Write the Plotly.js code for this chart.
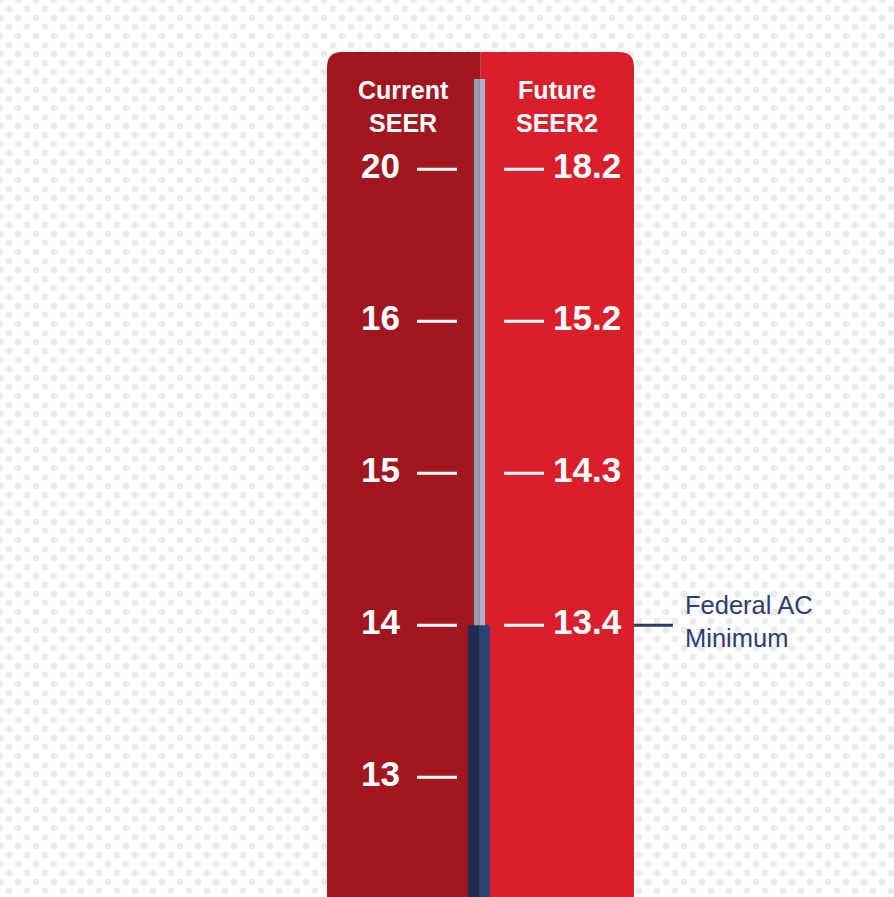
<!DOCTYPE html>
<html>
<head>
<meta charset="utf-8">
<script src="https://cdn.plot.ly/plotly-3.0.1.min.js"></script>
<style>
  html, body { margin: 0; padding: 0; }
  body {
    width: 894px; height: 897px; overflow: hidden;
    background-color: #ffffff;
    background-image:
      radial-gradient(circle, #ebebeb 3.2px, rgba(255,255,255,0) 3.8px),
      radial-gradient(circle, #ebebeb 3.2px, rgba(255,255,255,0) 3.8px);
    background-size: 18px 18px;
    background-position: 0 0, 9px 9px;
  }
  #chart { width: 894px; height: 897px; }
</style>
</head>
<body>
<div id="chart"></div>
<script>
// ---- data ----
const seerLevels = [13, 14, 15, 16, 20];
const seer2Levels = [null, 13.4, 14.3, 15.2, 18.2];
const federalMinimumSeer = 14;
const headerLabels = ["Current<br>SEER", "Future<br>SEER2"];
const federalLabel = "Federal AC<br>Minimum";

// ---- styling ----
const W = 894, H = 897;
const darkRed = "#a1171f", lightRed = "#d91f2b";
const navyDark = "#1f2d52", navyLight = "#2c4272";
const tubeDark = "#969db1", tubeLight = "#aab3c8";
const fontFam = "Liberation Sans, Arial, Helvetica, sans-serif";

const gaugePos = seerLevels.map((v, i) => i);
const fedPos = seerLevels.indexOf(federalMinimumSeer);

const leftTrace = {
  x: seerLevels.map(() => 400), y: gaugePos,
  text: seerLevels.map(String),
  mode: "text", textposition: "middle left",
  textfont: {family: fontFam, size: 35, color: "#ffffff", weight: "bold"},
  hoverinfo: "skip", showlegend: false, cliponaxis: false
};
const rIdx = seer2Levels.map((v, i) => i).filter(i => seer2Levels[i] !== null);
const rightTrace = {
  x: rIdx.map(() => 553), y: rIdx.map(i => gaugePos[i]),
  text: rIdx.map(i => seer2Levels[i].toFixed(1)),
  mode: "text", textposition: "middle right",
  textfont: {family: fontFam, size: 35, color: "#ffffff", weight: "bold"},
  hoverinfo: "skip", showlegend: false, cliponaxis: false
};

const shapes = [];
// panels (pixel layout on y2)
const panelTop = 52, rad = 15, pL = 327, pM = 480, pR = 634;
shapes.push({type: "path", xref: "x", yref: "y2", layer: "below", line: {width: 0}, fillcolor: darkRed,
  path: `M ${pL} ${H} L ${pL} ${panelTop + rad} Q ${pL} ${panelTop} ${pL + rad} ${panelTop} L ${pM} ${panelTop} L ${pM} ${H} Z`});
shapes.push({type: "path", xref: "x", yref: "y2", layer: "below", line: {width: 0}, fillcolor: lightRed,
  path: `M ${pM} ${H} L ${pM} ${panelTop} L ${pR - rad} ${panelTop} Q ${pR} ${panelTop} ${pR} ${panelTop + rad} L ${pR} ${H} Z`});
shapes.push({type: "line", xref: "x", yref: "y2", layer: "below", x0: pM + 0.5, x1: pM + 0.5, y0: panelTop, y1: H, line: {color: "#c2444c", width: 1}});
// tube
shapes.push({type: "rect", xref: "x", yref: "y2", layer: "below", x0: 474, x1: 479.5, y0: 79, y1: H, line: {width: 0}, fillcolor: tubeDark});
shapes.push({type: "rect", xref: "x", yref: "y2", layer: "below", x0: 479.5, x1: 485, y0: 79, y1: H, line: {width: 0}, fillcolor: tubeLight});
// navy fill up to federal minimum (data y)
shapes.push({type: "rect", xref: "x", yref: "y", layer: "above", x0: 468, x1: 479, y0: -2, y1: fedPos, line: {width: 0}, fillcolor: navyDark});
shapes.push({type: "rect", xref: "x", yref: "y", layer: "above", x0: 479, x1: 490, y0: -2, y1: fedPos, line: {width: 0}, fillcolor: navyLight});
// tick dashes
gaugePos.forEach((p, i) => {
  shapes.push({type: "line", xref: "x", yref: "y", x0: 417, x1: 457, y0: p, y1: p, line: {color: "#ffffff", width: 3}});
  if (seer2Levels[i] !== null)
    shapes.push({type: "line", xref: "x", yref: "y", x0: 504, x1: 544, y0: p, y1: p, line: {color: "#ffffff", width: 3}});
});
// federal marker
shapes.push({type: "line", xref: "x", yref: "y", x0: 634, x1: 673, y0: fedPos, y1: fedPos, line: {color: "#2b3a67", width: 3}});

const annotations = [
  {x: (pL + pM) / 2, y: 106, xref: "x", yref: "y2", text: headerLabels[0], showarrow: false,
   font: {family: fontFam, size: 25, color: "#ffffff", weight: "bold"}, align: "center", xanchor: "center", yanchor: "middle"},
  {x: (pM + pR) / 2, y: 106, xref: "x", yref: "y2", text: headerLabels[1], showarrow: false,
   font: {family: fontFam, size: 25, color: "#ffffff", weight: "bold"}, align: "center", xanchor: "center", yanchor: "middle"},
  {x: 683, y: fedPos, xref: "x", yref: "y", text: federalLabel, showarrow: false, yshift: 4,
   font: {family: fontFam, size: 25.5, color: "#2d3e6e"}, align: "left", xanchor: "left", yanchor: "middle"}
];

const layout = {
  width: W, height: H,
  margin: {l: 0, r: 0, t: 0, b: 0, pad: 0},
  paper_bgcolor: "rgba(0,0,0,0)", plot_bgcolor: "rgba(0,0,0,0)",
  xaxis: {range: [0, W], visible: false, fixedrange: true},
  yaxis: {range: [-0.787, 5.114], visible: false, fixedrange: true},
  yaxis2: {range: [H, 0], visible: false, overlaying: "y", fixedrange: true},
  shapes: shapes, annotations: annotations,
  showlegend: false
};

Plotly.newPlot("chart", [leftTrace, rightTrace], layout, {displayModeBar: false, staticPlot: true});
</script>
</body>
</html>
